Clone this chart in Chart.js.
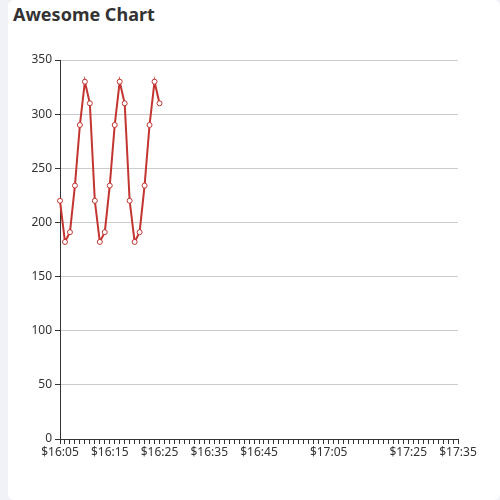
<!DOCTYPE html>
<html>
<head>
<meta charset="utf-8">
<script src="https://cdn.jsdelivr.net/npm/chart.js@4/dist/chart.umd.min.js"></script>
<style>
  html, body { margin: 0; padding: 0; background: #f1f1f8; }
  #card {
    position: absolute; left: 8px; top: 0; width: 492px; height: 500px;
    background: #fff; border-radius: 6px;
  }
  #title {
    position: absolute; left: 13px; top: 2px;
    font: bold 18px "Noto Sans", "DejaVu Sans", sans-serif; color: #333;
  }
  #chart { position: absolute; left: 0; top: 0; }
</style>
</head>
<body>
<div id="card"></div>
<div id="title">Awesome Chart</div>
<canvas id="chart" width="500" height="500"></canvas>
<script>
// x axis has 81 category slots, only some of them labelled
const slotCount = 81;
const tickLabels = ["$16:05", "$16:15", "$16:25", "$16:35", "$16:45", "$17:05", "$17:25", "$17:35"];
const tickSlots = [0, 10, 20, 30, 40, 54, 70, 80];
const values = [220, 182, 191, 234, 290, 330, 310,
                220, 182, 191, 234, 290, 330, 310,
                220, 182, 191, 234, 290, 330, 310];
const yTicks = [0, 50, 100, 150, 200, 250, 300, 350];

const categories = [];
for (let i = 0; i < slotCount; i++) {
  const k = tickSlots.indexOf(i);
  categories.push(k >= 0 ? tickLabels[k] : "");
}

const font = { family: "'Noto Sans', 'DejaVu Sans', sans-serif", size: 12 };

new Chart(document.getElementById("chart"), {
  type: "line",
  data: {
    labels: categories,
    datasets: [{
      data: values,
      borderColor: "#c23531",
      borderWidth: 2,
      pointRadius: 2.5,
      pointBorderWidth: 1,
      pointBackgroundColor: "#fff",
      pointBorderColor: "#c23531",
      tension: 0,
    }],
  },
  options: {
    responsive: false,
    animation: false,
    layout: { padding: { left: 0, top: 60, right: 42, bottom: 0 } },
    plugins: { legend: { display: false }, tooltip: { enabled: false } },
    scales: {
      x: {
        type: "category",
        offset: false,
        grid: { drawOnChartArea: false, drawTicks: true, tickLength: 5, tickColor: "#333" },
        border: { display: true, color: "#333" },
        ticks: {
          autoSkip: false, maxRotation: 0, minRotation: 0, color: "#333", font: font, padding: 1,
          callback: function (v, i) { return categories[i]; },
        },
        afterFit: function (s) { s.height = 61; },
      },
      y: {
        min: 0, max: 350,
        afterBuildTicks: function (s) { s.ticks = yTicks.map((v) => ({ value: v })); },
        grid: { color: "#ccc", tickColor: "#333", tickLength: 5 },
        border: { display: true, color: "#333" },
        ticks: { color: "#333", font: font, padding: 3 },
        afterFit: function (s) { s.width = 60; },
      },
    },
  },
});
</script>
</body>
</html>
